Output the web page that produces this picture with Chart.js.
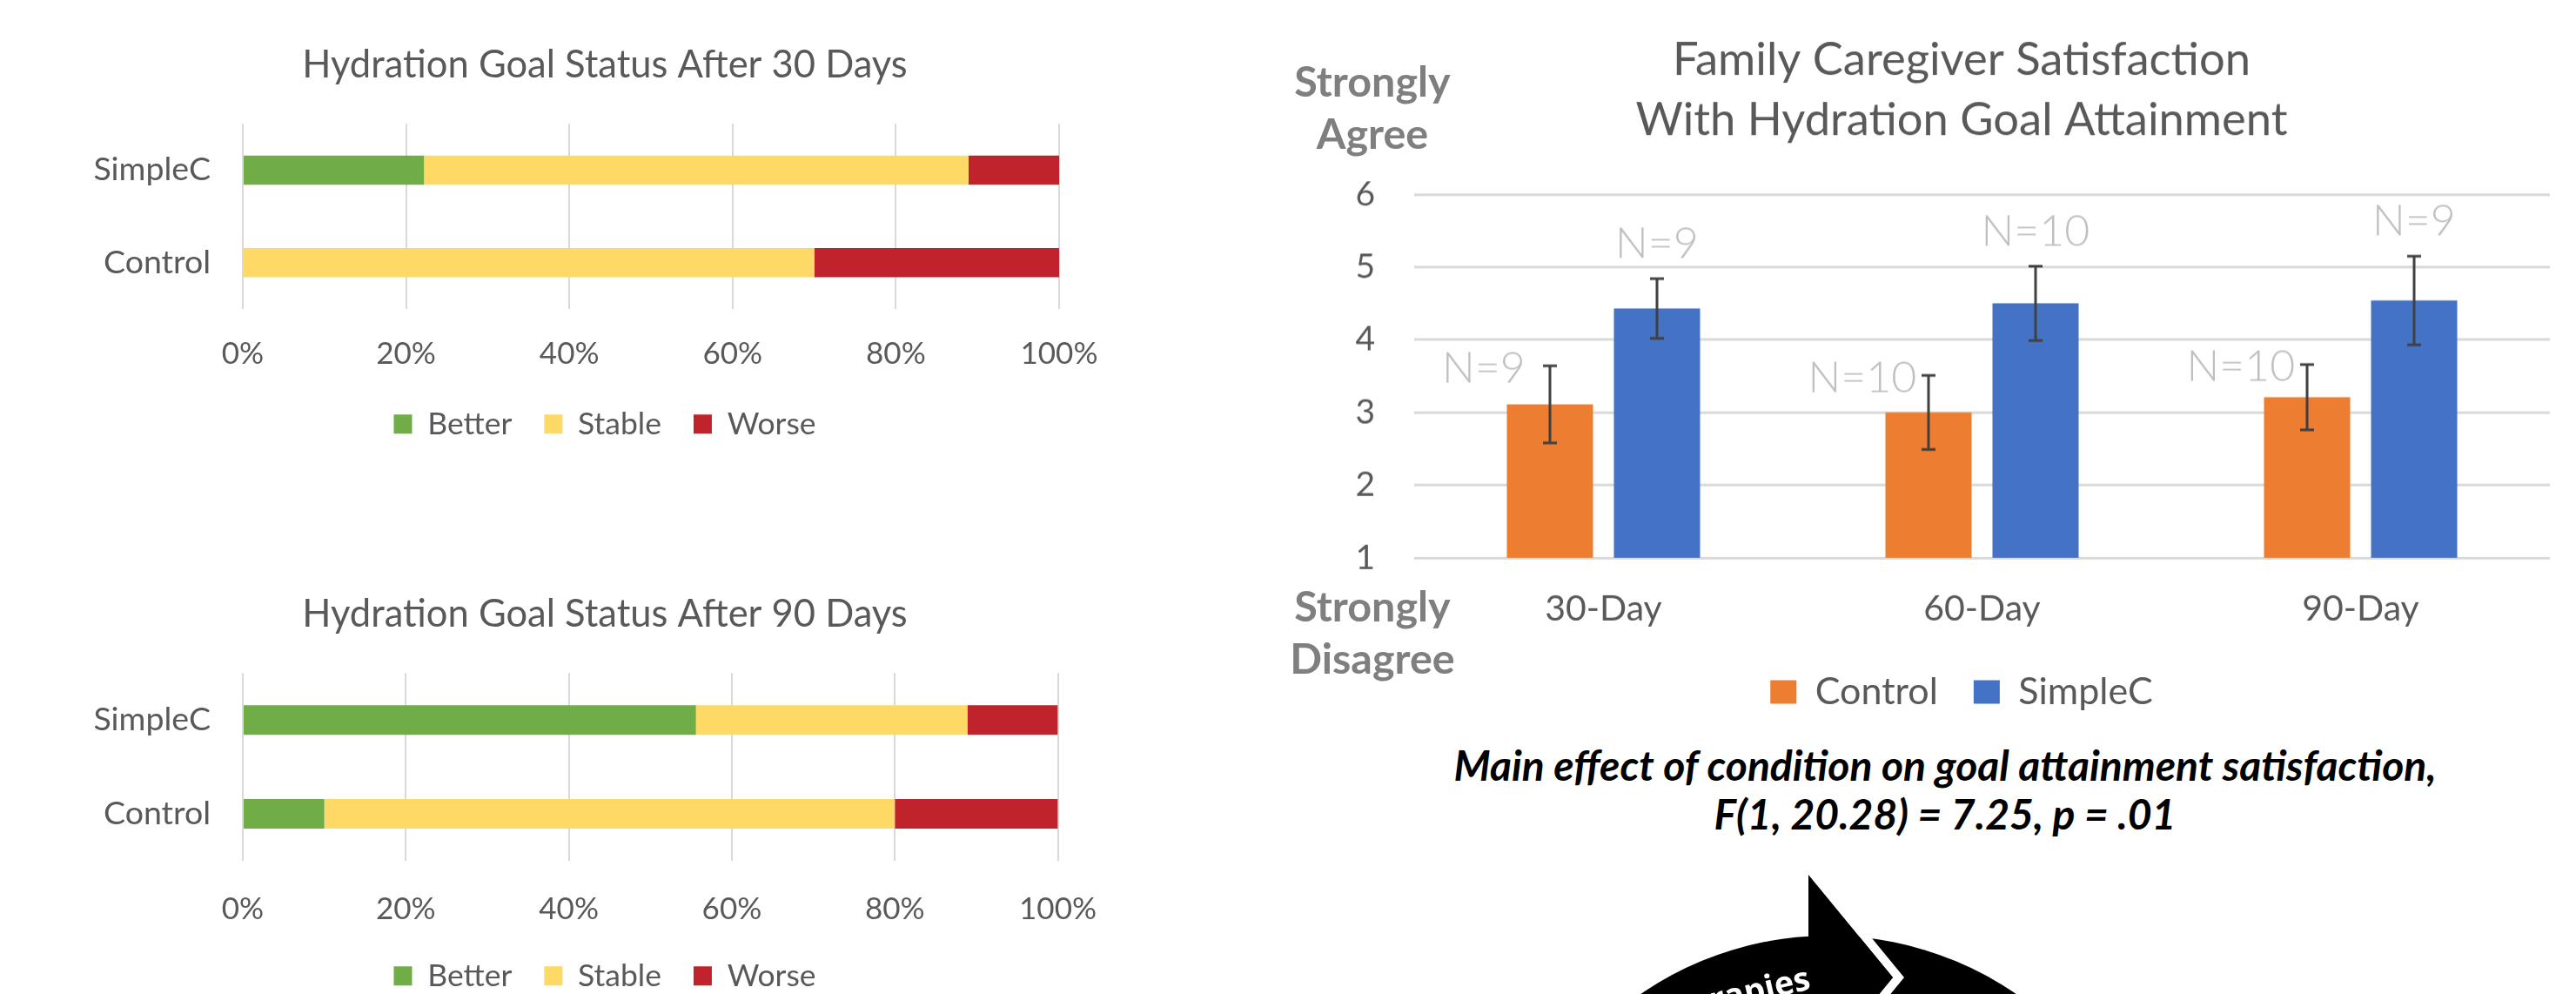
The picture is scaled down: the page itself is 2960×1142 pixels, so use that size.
<!DOCTYPE html>
<html lang="en">
<head>
<meta charset="UTF-8">
<title>Hydration Goal Status and Caregiver Satisfaction</title>
<style>
  html, body { margin: 0; padding: 0; background: #fff; overflow: hidden; }
  body { width: 2960px; height: 1142px; position: relative; font-family: Lato, sans-serif; }
  .box { position: absolute; }
  .anchor { position: absolute; width: 260px; text-align: center; font-weight: bold;
            font-size: 48.5px; line-height: 60px; color: #7f7f7f; }
  .caption { position: absolute; left: 1535px; width: 1400px; top: 851px; text-align: center;
             font-weight: bold; font-style: italic; font-size: 48px; line-height: 56px; color: #000; }
  #cycle { position: absolute; left: 0; top: 0; }
</style>
<script src="https://cdn.jsdelivr.net/npm/chart.js"></script>
</head>
<body>

<div class="box" style="left:95px; top:0px; width:1200px; height:515px;"><canvas id="status30"></canvas></div>
<div class="box" style="left:95px; top:631px; width:1200px; height:518px;"><canvas id="status90"></canvas></div>
<div class="box" style="left:1548px; top:0px; width:1412px; height:825.5px;"><canvas id="satisfaction"></canvas></div>

<div class="anchor" style="left:1447px; top:62px;">Strongly<br>Agree</div>
<div class="anchor" style="left:1447px; top:665px;">Strongly<br>Disagree</div>
<div class="caption">Main effect of condition on goal attainment satisfaction,<br>F(1, 20.28) = 7.25, p = .01</div>

<svg id="cycle" width="2960" height="1142" viewBox="0 0 2960 1142">
  <circle cx="2101" cy="1456" r="381" fill="#000"/>
  <polygon points="2078,1005 2175,1123 2078,1241 2091,1241 2188,1123 2091,1005" fill="#fff"/>
  <polygon points="2078,1005 2175,1123 2078,1241" fill="#000"/>
  <text x="2082" y="1136" transform="rotate(-13 2082 1136)" text-anchor="end"
        font-family="Open Sans" font-weight="bold" font-size="38" fill="#fff">Therapies</text>
</svg>

<script>
// hydration goal status (percent of participants)
const statusGroups = ['SimpleC', 'Control'];
const statusNames = ['Better', 'Stable', 'Worse'];
const day30Better = [22.2, 0];
const day30Stable = [66.7, 70];
const day30Worse = [11.1, 30];
const day90Better = [55.6, 10];
const day90Stable = [33.3, 70];
const day90Worse = [11.1, 20];
const percentTicks = [0, 20, 40, 60, 80, 100];

// caregiver satisfaction (1 = strongly disagree, 6 = strongly agree)
const visitLabels = ['30-Day', '60-Day', '90-Day'];
const controlMean = [3.11, 3.00, 3.21];
const controlErr = [0.53, 0.51, 0.45];
const simplecMean = [4.43, 4.50, 4.54];
const simplecErr = [0.41, 0.51, 0.61];
const controlN = ['N=9', 'N=10', 'N=10'];
const simplecN = ['N=9', 'N=10', 'N=9'];
const ratingTicks = [1, 2, 3, 4, 5, 6];

const GRAY = '#595959';
const GRID = '#d9d9d9';
const statusColors = ['#70AD47', '#FFD966', '#C0232B'];

Chart.defaults.font.family = 'Lato';
Chart.defaults.color = GRAY;

function statusChart(id, title, better, stable, worse, lay) {
    const series = [better, stable, worse];
    new Chart(document.getElementById(id), {
        type: 'bar',
        data: {
            labels: statusGroups,
            datasets: statusNames.map((name, i) => ({
                label: name,
                data: series[i],
                backgroundColor: statusColors[i],
                borderWidth: 0
            }))
        },
        options: {
            indexAxis: 'y',
            responsive: true,
            maintainAspectRatio: false,
            animation: false,
            datasets: { bar: { categoryPercentage: 1, barPercentage: 0.315 } },
            layout: { padding: 0 },
            plugins: {
                title: {
                    display: true, text: title, color: GRAY,
                    font: { size: 43.5, weight: 'normal' },
                    padding: { top: 49, bottom: 41 }
                },
                legend: {
                    position: 'bottom',
                    labels: { boxWidth: 21, boxHeight: 22, padding: 37, color: GRAY, font: { size: 35.5 } }
                },
                tooltip: { enabled: false }
            },
            scales: {
                x: {
                    stacked: true, min: 0, max: 100,
                    afterBuildTicks: s => { s.ticks = percentTicks.map(v => ({ value: v })); },
                    ticks: { callback: v => v + '%', padding: lay.xPad, font: { size: 35 } },
                    grid: { color: GRID, lineWidth: 2, drawTicks: false },
                    border: { display: false },
                    afterFit: s => { s.height = lay.xAxisH; }
                },
                y: {
                    stacked: true,
                    ticks: { padding: 37, font: { size: 37.5 } },
                    grid: { display: false, drawTicks: false },
                    border: { display: false },
                    afterFit: s => { s.width = 184; }
                },
                // empty box on the right so the plot ends before the title's right edge
                y2: {
                    type: 'category', position: 'right',
                    ticks: { display: false },
                    grid: { display: false, drawTicks: false },
                    border: { display: false },
                    afterFit: s => { s.width = 78; }
                }
            }
        }
    });
}

statusChart('status30', 'Hydration Goal Status After 30 Days', day30Better, day30Stable, day30Worse,
    { xPad: 31, xAxisH: 77.5 });
statusChart('status90', 'Hydration Goal Status After 90 Days', day90Better, day90Stable, day90Worse,
    { xPad: 35, xAxisH: 77.5 });

// error bars and N= labels drawn on top of the bars
const errorBars = {
    id: 'errorBars',
    afterDatasetsDraw(chart) {
        const ctx = chart.ctx;
        const y = chart.scales.y;
        chart.data.datasets.forEach((ds, i) => {
            chart.getDatasetMeta(i).data.forEach((bar, j) => {
                const top = y.getPixelForValue(ds.data[j] + ds.errors[j]);
                const bottom = y.getPixelForValue(ds.data[j] - ds.errors[j]);
                ctx.save();
                ctx.strokeStyle = '#404040';
                ctx.lineWidth = 3;
                ctx.beginPath();
                ctx.moveTo(bar.x, top); ctx.lineTo(bar.x, bottom);
                ctx.moveTo(bar.x - 8, top); ctx.lineTo(bar.x + 8, top);
                ctx.moveTo(bar.x - 8, bottom); ctx.lineTo(bar.x + 8, bottom);
                ctx.stroke();

                ctx.fillStyle = '#bfbfbf';
                ctx.font = '300 50px Lato';
                ctx.textAlign = 'center';
                ctx.textBaseline = 'middle';
                if (ds.nBeside) {
                    ctx.fillText(ds.nText[j], bar.x - bar.width * 0.77, top + 3);
                } else {
                    ctx.fillText(ds.nText[j], bar.x, top - 40);
                }
                ctx.restore();
            });
        });
    }
};

new Chart(document.getElementById('satisfaction'), {
    type: 'bar',
    data: {
        labels: visitLabels,
        datasets: [
            { label: 'Control', data: controlMean, errors: controlErr, nText: controlN, nBeside: true,
              backgroundColor: '#ED7D31' },
            { label: 'SimpleC', data: simplecMean, errors: simplecErr, nText: simplecN, nBeside: false,
              backgroundColor: '#4472C4' }
        ]
    },
    options: {
        responsive: true,
        maintainAspectRatio: false,
        animation: false,
        datasets: { bar: { categoryPercentage: 0.5655, barPercentage: 0.805 } },
        layout: { padding: 0 },
        plugins: {
            title: {
                display: true,
                text: ['Family Caregiver Satisfaction', 'With Hydration Goal Attainment'],
                color: GRAY,
                font: { size: 52.5, weight: 'normal', lineHeight: 69 / 52.5 },
                padding: { top: 35, bottom: 50 }
            },
            legend: {
                position: 'bottom',
                labels: { boxWidth: 30, boxHeight: 27, padding: 41, color: GRAY, font: { size: 43 } }
            },
            tooltip: { enabled: false }
        },
        scales: {
            x: {
                ticks: { padding: 34.4, font: { size: 41 } },
                grid: { display: false, drawTicks: false },
                border: { display: false },
                afterFit: s => { s.height = 91.5; }
            },
            y: {
                min: 1, max: 6,
                afterBuildTicks: s => { s.ticks = ratingTicks.map(v => ({ value: v })); },
                ticks: { padding: 45, font: { size: 39 } },
                grid: { color: GRID, lineWidth: 3, drawTicks: false },
                border: { display: false },
                afterFit: s => { s.width = 77; }
            },
            y2: {
                position: 'right',
                ticks: { display: false },
                grid: { display: false, drawTicks: false },
                border: { display: false },
                afterFit: s => { s.width = 30; }
            }
        }
    },
    plugins: [errorBars]
});
</script>
</body>
</html>
